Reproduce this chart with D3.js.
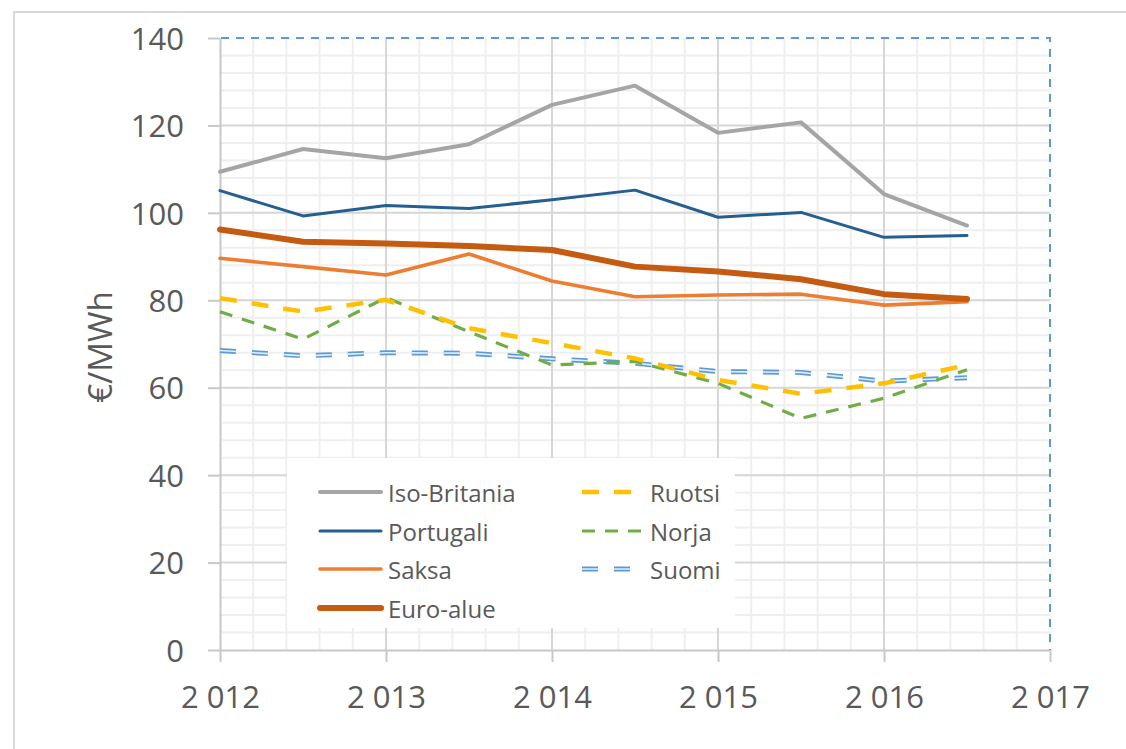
<!DOCTYPE html>
<meta charset="utf-8">
<style>
  body { margin: 0; background: #fff; }
  text { font-family: "Open Sans", sans-serif; fill: #595959; }
</style>
<body>
<script src="https://cdn.jsdelivr.net/npm/d3@7"></script>
<script>
  // half-year points
  var years = [2012, 2012.5, 2013, 2013.5, 2014, 2014.5, 2015, 2015.5, 2016, 2016.5];

  var isoBritania = [109.4, 114.6, 112.5, 115.7, 124.7, 129.1, 118.3, 120.7, 104.3, 97.1];
  var portugali   = [105.1, 99.3, 101.7, 101.0, 103.0, 105.2, 99.0, 100.1, 94.4, 94.8];
  var saksa       = [89.6, 87.7, 85.8, 90.6, 84.4, 80.8, 81.2, 81.4, 78.9, 79.7];
  var euroAlue    = [96.2, 93.4, 93.0, 92.4, 91.5, 87.7, 86.6, 84.8, 81.4, 80.3];
  var ruotsi      = [80.5, 77.4, 80.1, 73.6, 70.2, 66.7, 61.8, 58.6, 61.0, 65.2];
  var norja       = [77.4, 71.1, 80.6, 72.8, 65.2, 66.0, 61.0, 53.0, 57.6, 64.1];
  var suomi       = [68.5, 67.3, 68.0, 67.9, 66.6, 65.6, 63.7, 63.5, 61.5, 62.3];

  var yTicks = [0, 20, 40, 60, 80, 100, 120, 140];
  var xTicks = [2012, 2013, 2014, 2015, 2016, 2017];

  var series = [
    { name: "Iso-Britania", values: isoBritania, color: "#a5a5a5", width: 4 },
    { name: "Portugali", values: portugali, color: "#255e91", width: 3 },
    { name: "Saksa", values: saksa, color: "#ed7d31", width: 3.6 },
    { name: "Euro-alue", values: euroAlue, color: "#c55a11", width: 6 },
    { name: "Ruotsi", values: ruotsi, color: "#ffc000", width: 4.5, dash: "17,15" },
    { name: "Norja", values: norja, color: "#70ad47", width: 3.2, dash: "13,10" },
    { name: "Suomi", values: suomi, color: "#5b9bd5", width: 5, dash: "16,16", inner: "#e4eef8" }
  ];

  var W = 1126, H = 749;
  // plot area edges (don't use "top" -- it's window.top)
  var pLeft = 220, pRight = 1050, pTop = 38, pBottom = 650;

  var svg = d3.select("body").append("svg")
    .attr("width", W)
    .attr("height", H);

  // chart frame
  svg.append("rect")
    .attr("x", 14).attr("y", 12)
    .attr("width", 1300).attr("height", 900)
    .attr("fill", "#fff")
    .attr("stroke", "#d9d9d9")
    .attr("stroke-width", 2);

  var x = d3.scaleLinear().domain([2012, 2017]).range([pLeft, pRight]);
  var y = d3.scaleLinear().domain([0, 140]).range([pBottom, pTop]);

  var fi = d3.formatLocale({ decimal: ",", thousands: " ", grouping: [3], currency: ["", " €"] });
  var fmtYear = fi.format(",");

  // minor grid
  var minorX = d3.range(2012, 2017.001, 0.2).filter(function(v) { return Math.abs(v - Math.round(v)) > 0.01; });
  var minorY = d3.range(0, 140.001, 4).filter(function(v) { return v % 20 !== 0; });
  var grid = svg.append("g");
  grid.selectAll(".mx").data(minorX).enter().append("line")
    .attr("x1", function(d) { return x(d); }).attr("x2", function(d) { return x(d); })
    .attr("y1", pTop).attr("y2", pBottom)
    .attr("stroke", "#efefef").attr("stroke-width", 2);
  grid.selectAll(".my").data(minorY).enter().append("line")
    .attr("x1", pLeft).attr("x2", pRight)
    .attr("y1", function(d) { return y(d); }).attr("y2", function(d) { return y(d); })
    .attr("stroke", "#efefef").attr("stroke-width", 2);

  // major grid
  grid.selectAll(".Mx").data(xTicks.slice(1, -1)).enter().append("line")
    .attr("x1", function(d) { return x(d); }).attr("x2", function(d) { return x(d); })
    .attr("y1", pTop).attr("y2", pBottom)
    .attr("stroke", "#d6d6d6").attr("stroke-width", 2);
  grid.selectAll(".My").data(yTicks.slice(1, -1)).enter().append("line")
    .attr("x1", pLeft).attr("x2", pRight)
    .attr("y1", function(d) { return y(d); }).attr("y2", function(d) { return y(d); })
    .attr("stroke", "#d6d6d6").attr("stroke-width", 2);

  // axes
  var yAxis = svg.append("g")
    .attr("transform", "translate(" + pLeft + ",0)")
    .call(d3.axisLeft(y).tickValues(yTicks).tickSize(12).tickSizeOuter(0).tickPadding(24));
  var xAxis = svg.append("g")
    .attr("transform", "translate(0," + pBottom + ")")
    .call(d3.axisBottom(x).tickValues(xTicks).tickSize(12).tickSizeOuter(0).tickPadding(24).tickFormat(fmtYear));

  [yAxis, xAxis].forEach(function(a) {
    a.select(".domain").attr("stroke", "#c8c8c8").attr("stroke-width", 2);
    a.selectAll(".tick line").attr("stroke", "#c8c8c8").attr("stroke-width", 2);
    a.selectAll(".tick text").attr("fill", "#595959").style("font-size", "31px");
  });
  yAxis.selectAll(".tick text").attr("dy", "0.36em");
  xAxis.selectAll(".tick text").attr("dy", "0.72em");

  // plot area dashed border (top/right)
  svg.append("path")
    .attr("d", "M" + (pLeft + 1) + "," + pTop + "H" + pRight + "V" + pBottom)
    .attr("fill", "none")
    .attr("stroke", "#5b9bd5")
    .attr("stroke-width", 2)
    .attr("stroke-dasharray", "8,7");

  // y title
  svg.append("text")
    .attr("transform", "translate(99,347) rotate(-90)")
    .attr("text-anchor", "middle")
    .attr("dominant-baseline", "central")
    .style("font-size", "33px")
    .text("€/MWh");

  var line = d3.line()
    .x(function(d, i) { return x(years[i]); })
    .y(function(d) { return y(d); });

  function drawStroke(sel, s) {
    sel.attr("fill", "none")
      .attr("stroke", s.color)
      .attr("stroke-width", s.width)
      .attr("stroke-linejoin", "round")
      .attr("stroke-linecap", s.dash ? "butt" : "round");
    if (s.dash) sel.attr("stroke-dasharray", s.dash);
  }

  function drawInner(sel, s) {
    sel.attr("fill", "none")
      .attr("stroke", s.inner)
      .attr("stroke-width", 1.6)
      .attr("stroke-dasharray", s.dash);
  }

  // draw order: dashed first, solid on top
  var order = [6, 5, 4, 2, 0, 1, 3];
  var lines = svg.append("g");
  order.forEach(function(k) {
    var s = series[k];
    lines.append("path").datum(s.values).attr("d", line).call(drawStroke, s);
    if (s.inner) lines.append("path").datum(s.values).attr("d", line).call(drawInner, s);
  });

  // legend
  var lg = svg.append("g");
  lg.append("rect")
    .attr("x", 287).attr("y", 458)
    .attr("width", 448).attr("height", 170)
    .attr("fill", "#fff");

  var rowsY = [492, 531, 569, 608];
  var legendItems = [
    { s: series[0], col: 0, row: 0 },
    { s: series[1], col: 0, row: 1 },
    { s: series[2], col: 0, row: 2 },
    { s: series[3], col: 0, row: 3 },
    { s: series[4], col: 1, row: 0 },
    { s: series[5], col: 1, row: 1 },
    { s: series[6], col: 1, row: 2 }
  ];
  var colX = [320, 582];

  legendItems.forEach(function(it) {
    var x0 = colX[it.col], yy = rowsY[it.row];
    var g = lg.append("g");
    g.append("path").attr("d", "M" + x0 + "," + yy + "H" + (x0 + 61)).call(drawStroke, it.s);
    if (it.s.inner) g.append("path").attr("d", "M" + x0 + "," + yy + "H" + (x0 + 61)).call(drawInner, it.s);
    g.append("text")
      .attr("x", x0 + 68)
      .attr("y", yy)
      .attr("dominant-baseline", "central")
      .style("font-size", "24px")
      .text(it.s.name);
  });
</script>
</body>
